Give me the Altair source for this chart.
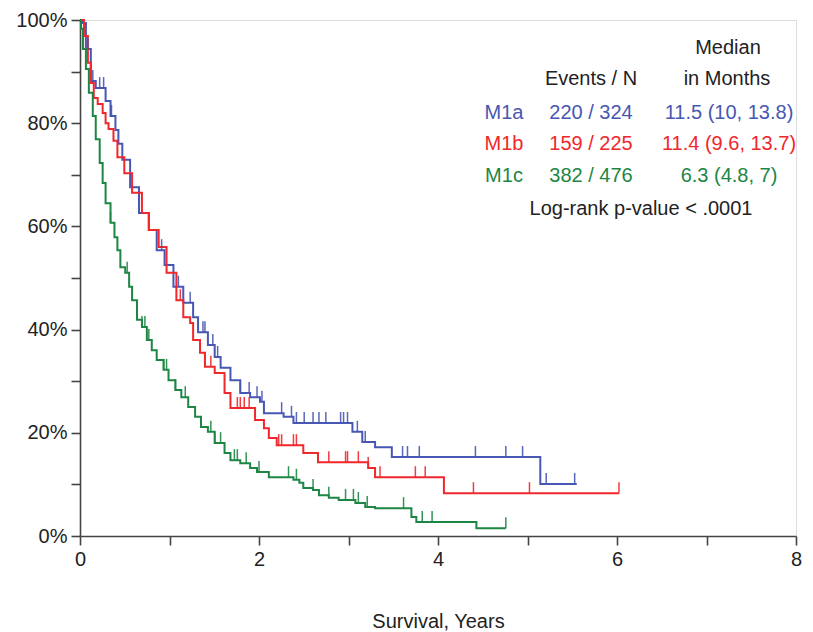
import altair as alt
import pandas as pd

FONT = "Liberation Sans"
groups = ["M1a", "M1b", "M1c"]
colors = ["#4757b3", "#f0272b", "#1e8644"]

# Kaplan-Meier knots (years, survival %), step-after
m1a_t = [0, 0.033, 0.066, 0.121, 0.176, 0.286, 0.341, 0.396, 0.429, 0.473, 0.560, 0.659, 0.769,
         0.857, 0.945, 1.044, 1.154, 1.264, 1.319, 1.429, 1.505, 1.571, 1.681, 1.791, 1.901, 2.011,
         2.055, 2.275, 2.385, 3.044, 3.154, 3.297, 3.484, 5.143, 5.550]
m1a_s = [100, 99.4, 94.4, 88.2, 86.8, 84.3, 81.4, 78.7, 76.0, 72.9, 67.6, 62.6, 59.3,
         55.4, 52.5, 48.3, 45.2, 42.4, 39.5, 37.0, 34.7, 32.6, 30.2, 27.7, 26.9, 26.0,
         23.8, 23.1, 21.9, 20.2, 18.2, 17.2, 15.3, 10.1, 10.1]

m1b_t = [0, 0.044, 0.088, 0.121, 0.154, 0.198, 0.253, 0.286, 0.319, 0.374, 0.418, 0.495, 0.582,
         0.692, 0.769, 0.879, 0.967, 1.077, 1.154, 1.231, 1.264, 1.341, 1.396, 1.505, 1.615, 1.681,
         1.956, 2.055, 2.110, 2.198, 2.495, 2.659, 3.220, 3.297, 4.066, 6.022]
m1b_s = [100, 96.9, 91.7, 87.8, 84.9, 83.7, 82.0, 80.0, 78.9, 76.6, 73.4, 70.3, 66.5,
         62.6, 59.3, 56.0, 51.0, 45.7, 42.4, 41.3, 38.0, 35.5, 32.8, 31.6, 27.7, 24.8,
         22.5, 20.9, 19.0, 17.6, 16.1, 14.3, 13.2, 11.4, 8.3, 8.3]

m1c_t = [0, 0.011, 0.033, 0.066, 0.099, 0.143, 0.176, 0.220, 0.253, 0.286, 0.341, 0.385, 0.418,
         0.451, 0.505, 0.549, 0.582, 0.637, 0.692, 0.747, 0.802, 0.857, 0.934, 0.989, 1.066, 1.132,
         1.209, 1.286, 1.352, 1.429, 1.505, 1.615, 1.681, 1.791, 1.901, 1.978, 2.110, 2.385, 2.451,
         2.495, 2.604, 2.670, 2.780, 2.890, 3.077, 3.187, 3.297, 3.703, 3.758, 4.429, 4.758]
m1c_s = [100, 98.3, 94.4, 90.5, 85.9, 81.4, 76.9, 72.3, 68.4, 64.5, 60.7, 57.9, 55.4,
         52.1, 51.0, 48.3, 45.7, 41.9, 40.5, 38.0, 36.0, 34.1, 32.2, 30.2, 28.3, 26.9,
         25.0, 23.1, 21.1, 20.2, 18.0, 16.1, 14.7, 14.1, 13.2, 12.4, 11.4, 10.9, 10.3,
         9.3, 8.9, 7.9, 7.4, 7.0, 6.4, 5.6, 5.4, 3.7, 2.7, 1.5, 1.5]

# censoring times (years)
m1a_cens = [0.088, 0.143, 0.220, 0.264, 0.352, 0.912, 1.099, 1.231, 1.374, 1.396, 1.484, 1.538,
            1.791, 1.890, 1.978, 2.033, 2.253, 2.363, 2.418, 2.505, 2.604, 2.670, 2.747, 2.912,
            2.945, 2.989, 3.099, 3.187, 3.604, 3.659, 3.791, 4.418, 4.758, 4.945, 5.209, 5.527]
m1b_cens = [1.121, 1.462, 1.758, 1.791, 1.835, 1.890, 2.220, 2.253, 2.385, 2.418, 2.780, 2.967,
            2.989, 3.110, 3.220, 3.352, 3.747, 3.857, 4.396, 5.022, 6.022]
m1c_cens = [0.341, 0.527, 0.692, 0.725, 0.769, 0.934, 0.967, 1.066, 1.176, 1.462, 1.505, 1.571,
            1.725, 1.758, 1.857, 2.000, 2.330, 2.418, 2.604, 2.780, 2.967, 3.055, 3.110, 3.209,
            3.615, 3.824, 3.934, 4.758]

events_n = ["220 / 324", "159 / 225", "382 / 476"]
medians = ["11.5 (10, 13.8)", "11.4 (9.6, 13.7)", "6.3 (4.8, 7)"]
pvalue_text = "Log-rank p-value < .0001"


def surv_at(ts, ss, t):
    v = ss[0]
    for ti, si in zip(ts, ss):
        if ti <= t + 1e-9:
            v = si
        else:
            break
    return v


series = [(m1a_t, m1a_s, m1a_cens), (m1b_t, m1b_s, m1b_cens), (m1c_t, m1c_s, m1c_cens)]
line_rows, cens_rows = [], []
for g, (ts, ss, cs) in zip(groups, series):
    for t, s in zip(ts, ss):
        line_rows.append({"group": g, "t": t, "s": s})
    for c in cs:
        cens_rows.append({"group": g, "t": c, "s": surv_at(ts, ss, c)})
lines_df = pd.DataFrame(line_rows)
cens_df = pd.DataFrame(cens_rows)

color = alt.Color("group:N", scale=alt.Scale(domain=groups, range=colors), legend=None)

x_enc = alt.X("t:Q", scale=alt.Scale(domain=[0, 8], nice=False),
              axis=alt.Axis(values=list(range(9)), format="d",
                            labelExpr="datum.value % 2 == 0 ? datum.label : ''",
                            title="Survival, Years", grid=False, tickSize=9, labelPadding=4,
                            domainColor="#444", tickColor="#444", domainWidth=1.6, tickWidth=1.6,
                            labelFont=FONT, titleFont=FONT, labelFontSize=20, titleFontSize=20,
                            labelColor="#222", titleColor="#222", titleFontWeight="normal",
                            titleY=91, titleBaseline="alphabetic", labelFlush=False))
y_enc = alt.Y("s:Q", scale=alt.Scale(domain=[0, 100], nice=False),
              axis=alt.Axis(values=list(range(0, 101, 10)),
                            labelExpr="datum.value % 20 == 0 ? datum.value + '%' : ''",
                            title=None, grid=False, tickSize=9, labelPadding=4,
                            domainColor="#444", tickColor="#444", domainWidth=1.6, tickWidth=1.6,
                            labelFont=FONT, labelFontSize=20, labelColor="#222"))

lines = alt.Chart(lines_df).mark_line(interpolate="step-after", strokeWidth=2).encode(
    x=x_enc, y=y_enc, color=color, detail="group:N")

ticks = alt.Chart(cens_df).mark_tick(orient="vertical", size=11, thickness=1.5, yOffset=-5.5,
                                     opacity=0.9).encode(x="t:Q", y="s:Q", color=color)

# legend / annotation table
text_rows = [
    {"txt": "Median", "px": 648, "py": 28, "col": "#222"},
    {"txt": "Events / N", "px": 511, "py": 59, "col": "#222"},
    {"txt": "in Months", "px": 647, "py": 59, "col": "#222"},
]
row_py = [93, 124, 156]
for g, c, en, md, py in zip(groups, colors, events_n, medians, row_py):
    text_rows.append({"txt": g, "px": 424, "py": py, "col": c})
    text_rows.append({"txt": en, "px": 511, "py": py, "col": c})
    text_rows.append({"txt": md, "px": 649, "py": py, "col": c})
text_rows.append({"txt": pvalue_text, "px": 561, "py": 189, "col": "#222"})

text_layers = [
    alt.Chart(pd.DataFrame([r])).mark_text(font=FONT, fontSize=20, align="center",
                                           baseline="middle", color=r["col"]).encode(
        x=alt.value(r["px"]), y=alt.value(r["py"]), text="txt:N")
    for r in text_rows
]

chart = alt.layer(lines, ticks, *text_layers).properties(
    width=716, height=516,
    autosize=alt.AutoSizeParams(type="none"),
    padding={"left": 72, "top": 12, "right": 9, "bottom": 96},
).configure_view(stroke=None).configure(background="white")

chart.save("out.html", embed_options={"renderer": "svg", "actions": False})
